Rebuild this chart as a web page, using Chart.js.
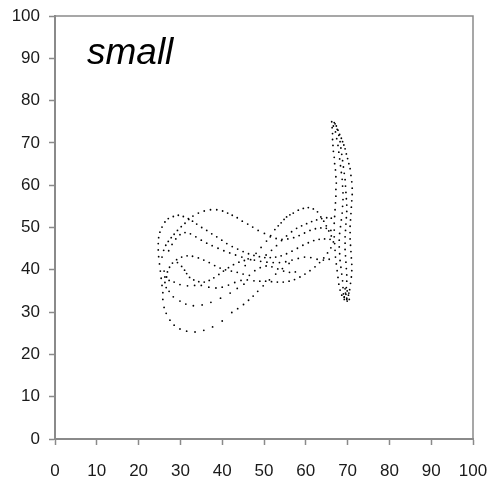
<!DOCTYPE html>
<html>
<head>
<meta charset="utf-8">
<script src="https://cdn.jsdelivr.net/npm/chart.js@4.4.1/dist/chart.umd.min.js"></script>
<style>
  html, body { margin: 0; padding: 0; background: #fff; }
  #wrap { width: 492px; height: 482px; }
</style>
</head>
<body>
<div id="wrap"><canvas id="chart"></canvas></div>
<script>
// dots, grouped by the stroke they seem to belong to
const outerLoop = [
  [56.0,41.5],[54.4,40.3],[52.8,39.0],[51.3,37.6],[49.8,36.2],[48.5,34.9],[47.4,33.8],[46.3,32.8],[45.1,31.8],
  [43.7,30.8],[42.3,29.9],[40.0,27.9],[37.7,26.5],[35.6,25.7],[33.5,25.3],[31.5,25.5],[29.9,26.0],[28.5,26.9],
  [27.5,28.1],[26.6,29.7],[26.1,31.1],[25.8,33.0],[25.8,34.6],[25.6,36.3],[25.4,38.0],[25.2,39.7],[25.0,41.4],
  [24.8,43.1],[24.7,44.7],[24.7,46.2],[24.8,47.6],[25.1,48.9],[25.6,50.1],[26.3,51.3],[27.1,52.1],[28.3,52.6],
  [29.5,52.9],[30.7,52.6],[31.9,52.1],[32.9,51.5],[33.9,50.8],[35.1,50.0],[36.3,49.3],[37.5,48.5],[38.7,47.8],
  [39.9,47.0],[41.1,46.2],[42.4,45.5],[43.7,44.9],[45.0,44.3],[46.3,43.8],[47.6,43.4],[48.9,43.1],[50.2,42.9],
  [51.5,42.9],[52.8,43.0],[54.1,43.3],[55.4,43.8],[56.7,44.4],[58.0,45.1],[59.3,45.8],[60.6,46.4],[61.9,46.9],
  [63.2,47.2],[64.5,47.3],[65.8,47.2]
];
const upperArc = [
  [25.6,43.0],[26.0,44.6],[26.5,45.8],[27.1,46.7],[27.8,47.6],[28.5,48.4],[29.3,49.3],[30.2,50.2],[31.1,51.0],
  [32.0,51.9],[33.0,52.7],[34.3,53.4],[35.7,53.9],[37.2,54.2],[38.7,54.2],[40.1,53.9],[41.3,53.4],[42.4,52.9],
  [43.6,52.3],[44.8,51.5],[46.1,50.8],[47.3,50.1],[48.6,49.3],[50.1,48.6],[51.5,47.8],[52.9,47.4],[54.3,47.2],
  [55.7,47.3],[57.1,47.6],[58.4,48.1],[59.7,48.7],[61.0,49.3],[62.3,49.7],[63.6,49.9],[64.9,49.8],[66.0,49.3]
];
const middleArc = [
  [27.2,44.5],[28.0,46.0],[28.9,47.3],[29.9,48.3],[31.1,48.8],[32.4,48.5],[33.7,47.8],[35.0,47.0],[36.3,46.3],
  [37.6,45.7],[39.0,45.1],[40.4,44.5],[41.8,44.0],[43.2,43.5],[44.7,43.0],[46.2,42.6],[47.7,42.3],[49.2,42.0],
  [50.7,41.8],[52.2,41.7],[53.7,41.7],[55.2,41.9],[56.7,42.3],[58.2,42.7],[59.7,43.0],[61.2,42.9],[62.7,42.5],
  [64.2,42.3],[65.6,42.5]
];
const innerLoop = [
  [45.0,39.0],[43.6,39.4],[42.2,39.7],[40.8,40.0],[39.5,40.4],[38.2,41.0],[36.9,41.7],[35.6,42.3],[34.3,42.8],
  [32.9,43.2],[31.6,43.3],[30.3,43.0],[29.1,42.4],[28.1,41.6],[27.4,40.6],[26.9,39.5],[26.7,38.3],[27.3,37.5],
  [28.5,37.1],[29.9,36.5],[31.7,36.2],[33.4,36.3],[35.0,36.3],[36.8,35.9],[38.5,35.7],[40.0,35.9],[41.5,36.4],
  [43.0,37.0],[44.5,37.5],[46.0,37.6],[47.6,37.4],[49.0,37.3],[50.4,37.3],[51.8,37.2],[53.2,37.1],[54.6,37.1],
  [56.0,37.3],[57.3,37.7],[58.6,38.3],[59.8,39.0],[61.0,39.8],[62.2,40.7],[63.3,41.7],[64.3,42.8],[65.2,44.0],
  [66.0,45.2]
];
const lowerLoop = [
  [26.1,39.7],[26.3,38.3],[26.3,37.0],[26.6,35.8],[27.3,34.9],[28.3,33.6],[29.9,32.6],[31.3,31.9],[33.1,31.5],
  [35.2,31.7],[37.3,32.3],[39.6,33.3],[41.9,34.5],[43.6,35.6],[45.2,36.6],[46.5,38.7],[47.8,39.8],[49.1,40.5],
  [50.5,40.9],[51.9,40.7],[53.3,40.2],[54.7,39.7],[56.1,39.4],[57.5,39.5]
];
const innerCross = [
  [29.3,41.7],[30.3,40.8],[31.0,39.9],[31.5,39.1],[32.2,38.2],[33.2,37.6],[34.4,37.2],[35.7,37.1],[36.9,37.5],
  [38.0,38.1],[39.2,38.9],[40.3,39.7],[41.5,40.5],[42.7,41.2],[44.0,41.8],[45.3,42.2]
];
const bigHump = [
  [45.5,41.0],[46.8,42.4],[48.1,43.9],[49.3,45.3],[50.6,46.8],[51.6,48.1],[52.6,49.5],[53.4,50.4],[54.1,51.1],
  [54.8,51.9],[55.4,52.5],[56.2,53.0],[57.0,53.4],[58.2,54.1],[59.4,54.5],[60.6,54.7],[61.8,54.4],[62.8,53.7],
  [63.6,52.5],[64.3,51.5],[64.9,50.4],[65.5,49.2],[66.1,48.0],[66.6,46.6]
];
const smallHump = [
  [50.5,43.5],[51.8,44.6],[53.0,45.7],[54.2,46.9],[55.4,48.0],[56.6,49.0],[57.8,49.8],[59.0,50.4],[60.2,50.9],
  [61.4,51.4],[62.6,51.8],[63.8,52.1],[65.0,52.3],[66.1,52.2]
];
const spikeLeft = [
  [66.2,75.0],[66.3,73.6],[66.4,72.2],[66.4,70.8],[66.5,69.4],[66.6,68.0],[66.8,66.6],[66.9,65.1],[67.1,63.6],
  [67.2,62.0],[67.3,60.5],[67.2,59.0],[67.2,57.4],[67.1,55.8],[67.0,54.2],[66.9,52.6],[66.8,51.0],[66.8,49.4],
  [66.8,47.8],[66.9,46.2],[67.0,44.6],[67.1,43.0],[67.3,41.4],[67.5,39.8],[67.7,38.2],[67.9,36.6],[68.2,35.2],
  [68.6,34.0]
];
const spikeInner = [
  [66.6,74.0],[67.1,72.6],[67.4,71.0],[67.7,69.4],[67.9,67.8],[68.1,66.2],[68.3,64.6],[68.5,63.0],[68.7,61.4],
  [68.8,59.8],[68.9,58.2],[68.9,56.6],[68.8,55.0],[68.7,53.4],[68.5,51.8],[68.3,50.2],[68.1,48.6],[68.0,47.0],
  [68.0,45.4],[68.1,43.8],[68.2,42.2],[68.4,40.6],[68.6,39.0],[68.8,37.4],[68.9,35.8],[69.0,34.3],[69.2,33.0]
];
const spikeMiddle = [
  [67.0,74.5],[67.5,73.2],[67.9,71.8],[68.2,70.3],[68.4,68.8],[68.6,67.3],[68.8,65.8],[69.0,64.3],[69.2,62.8],
  [69.4,61.3],[69.5,59.8],[69.6,58.3],[69.7,56.8],[69.8,55.3],[69.8,53.8],[69.7,52.3],[69.6,50.8],[69.5,49.3],
  [69.4,47.8],[69.4,46.3],[69.4,44.8],[69.5,43.3],[69.6,41.8],[69.7,40.3],[69.8,38.8],[69.8,37.3],[69.7,35.8],
  [69.5,34.5],[69.2,33.5]
];
const spikeRight = [
  [66.8,74.8],[67.3,74.0],[67.7,73.0],[68.1,72.0],[68.5,71.1],[68.8,70.3],[69.1,69.5],[69.4,68.6],[69.7,67.4],
  [70.0,66.3],[70.3,65.1],[70.6,63.9],[70.8,62.3],[71.0,60.8],[71.1,59.3],[71.1,57.8],[71.0,56.3],[70.9,54.8],
  [70.8,53.3],[70.7,51.8],[70.6,50.3],[70.6,48.8],[70.6,47.3],[70.7,45.8],[70.8,44.3],[70.9,42.8],[71.0,41.3],
  [71.0,39.8],[70.9,38.3],[70.7,36.8],[70.5,35.3],[70.2,34.0],[69.8,33.0]
];
const spikeFoot = [
  [69.4,35.5],[69.9,35.0],[70.3,34.5],[69.6,34.2],[69.2,33.6],[69.8,33.3],[70.4,33.0],[69.9,32.6]
];

const strokes = [outerLoop, upperArc, middleArc, innerLoop, lowerLoop, innerCross,
                 bigHump, smallHump, spikeLeft, spikeInner, spikeMiddle, spikeRight, spikeFoot];

const axisTicks = [0, 10, 20, 30, 40, 50, 60, 70, 80, 90, 100];
const label = "small";

const gray = "#8a8a8a";
const tickFont = { family: "'Liberation Sans', Arial, sans-serif", size: 17 };

const boxAndLabel = {
  id: "boxAndLabel",
  afterDraw(chart) {
    const { ctx, chartArea: a } = chart;
    ctx.save();
    ctx.strokeStyle = gray;
    ctx.lineWidth = 1.5;
    ctx.beginPath();
    ctx.moveTo(a.left, a.top);
    ctx.lineTo(a.right, a.top);
    ctx.lineTo(a.right, a.bottom);
    ctx.stroke();
    ctx.fillStyle = "#000";
    ctx.font = "italic 37px 'Liberation Sans', Arial, sans-serif";
    ctx.textBaseline = "alphabetic";
    ctx.fillText(label, 87, 64);
    ctx.restore();
  }
};

const axis = (extra) => Object.assign({
  type: "linear",
  min: 0,
  max: 100,
  afterBuildTicks: (s) => { s.ticks = axisTicks.map(v => ({ value: v })); },
  grid: { display: true, drawOnChartArea: false, drawTicks: true, tickLength: 6, tickColor: gray, tickWidth: 1.5 },
  border: { display: true, color: gray, width: 2 }
}, extra);

new Chart(document.getElementById("chart"), {
  type: "scatter",
  data: {
    datasets: strokes.map(pts => ({
      data: pts.map(([x, y]) => ({ x, y })),
      pointRadius: 0.9,
      pointBackgroundColor: "#000",
      pointBorderWidth: 0,
      showLine: false
    }))
  },
  options: {
    responsive: true,
    maintainAspectRatio: false,
    animation: false,
    layout: { padding: { top: 16, right: 19, left: 0, bottom: 0 } },
    plugins: { legend: { display: false }, tooltip: { enabled: false } },
    scales: {
      x: axis({ position: "bottom",
                afterFit: (s) => { s.height = 43; s.paddingLeft = 0; s.paddingRight = 0; },
                ticks: { color: "#1a1a1a", padding: 16, maxRotation: 0, font: tickFont } }),
      y: axis({ position: "left",
                afterFit: (s) => { s.width = 55; s.paddingTop = 0; s.paddingBottom = 0; },
                ticks: { color: "#1a1a1a", padding: 9, font: tickFont } })
    }
  },
  plugins: [boxAndLabel]
});
</script>
</body>
</html>
